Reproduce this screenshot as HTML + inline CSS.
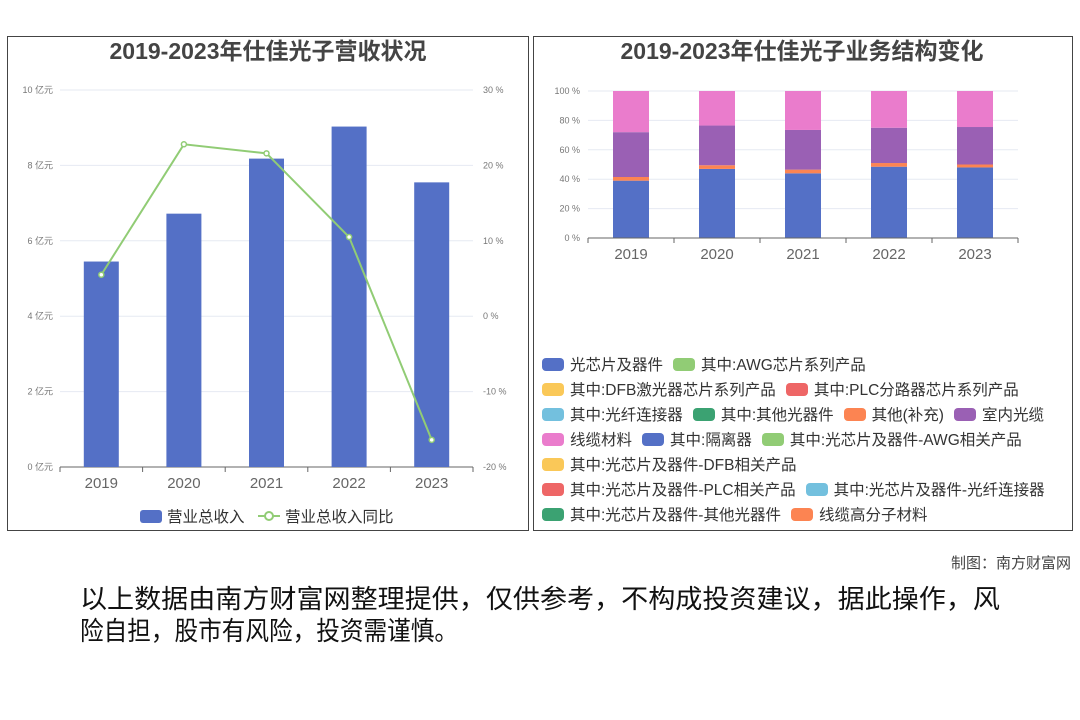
<!DOCTYPE html>
<html><head><meta charset="utf-8">
<style>
body{margin:0;width:1080px;height:720px;background:#fff;overflow:hidden;font-family:"Liberation Sans","Noto Sans CJK SC",sans-serif;position:relative}
.panel{position:absolute;border:1px solid #444;box-sizing:border-box;top:36px;height:495px}
.lg{position:absolute;font-size:15.5px;color:#333;white-space:nowrap;height:18px;line-height:18px}
.lg i{display:inline-block;width:22px;height:13px;border-radius:4px;vertical-align:-1px;margin-right:6px}
.lg span{margin-right:10px}
</style></head><body>
<div class="panel" style="left:7px;width:522px"></div>
<div class="panel" style="left:533px;width:540px"></div>
<svg id="s" width="1080" height="720" style="position:absolute;left:0;top:0">
<text x="268" y="59" text-anchor="middle" font-size="23" font-weight="bold" fill="#444">2019-2023年仕佳光子营收状况</text>
<text x="802" y="59" text-anchor="middle" font-size="23" font-weight="bold" fill="#444">2019-2023年仕佳光子业务结构变化</text>
<g id="L"></g><g id="R"></g>
<rect x="140" y="510" width="22" height="13" rx="3" fill="#5470c6"/>
<text x="167" y="522" font-size="15.5" fill="#333">营业总收入</text>
<line x1="258" y1="516" x2="280" y2="516" stroke="#91cc75" stroke-width="2"/>
<circle cx="269" cy="516" r="4" fill="#fff" stroke="#91cc75" stroke-width="2"/>
<text x="285" y="522" font-size="15.5" fill="#333">营业总收入同比</text>
<text x="1071" y="568" text-anchor="end" font-size="15" fill="#444">制图：南方财富网</text>
<text x="80" y="608" font-size="26" fill="#111" textLength="920" lengthAdjust="spacingAndGlyphs">以上数据由南方财富网整理提供，仅供参考，不构成投资建议，据此操作，风</text>
<text x="80" y="640" font-size="26" fill="#111" textLength="378" lengthAdjust="spacingAndGlyphs">险自担，股市有风险，投资需谨慎。</text>
</svg>
<div class="lg" style="left:542px;top:357px"><i style="background:#5470c6"></i><span>光芯片及器件</span><i style="background:#91cc75"></i><span>其中:AWG芯片系列产品</span></div>
<div class="lg" style="left:542px;top:382px"><i style="background:#fac858"></i><span>其中:DFB激光器芯片系列产品</span><i style="background:#ee6666"></i><span>其中:PLC分路器芯片系列产品</span></div>
<div class="lg" style="left:542px;top:407px"><i style="background:#73c0de"></i><span>其中:光纤连接器</span><i style="background:#3ba272"></i><span>其中:其他光器件</span><i style="background:#fc8452"></i><span>其他(补充)</span><i style="background:#9a60b4"></i><span>室内光缆</span></div>
<div class="lg" style="left:542px;top:432px"><i style="background:#ea7ccc"></i><span>线缆材料</span><i style="background:#5470c6"></i><span>其中:隔离器</span><i style="background:#91cc75"></i><span>其中:光芯片及器件-AWG相关产品</span></div>
<div class="lg" style="left:542px;top:457px"><i style="background:#fac858"></i><span>其中:光芯片及器件-DFB相关产品</span></div>
<div class="lg" style="left:542px;top:482px"><i style="background:#ee6666"></i><span>其中:光芯片及器件-PLC相关产品</span><i style="background:#73c0de"></i><span>其中:光芯片及器件-光纤连接器</span></div>
<div class="lg" style="left:542px;top:507px"><i style="background:#3ba272"></i><span>其中:光芯片及器件-其他光器件</span><i style="background:#fc8452"></i><span>线缆高分子材料</span></div>
<script>
const years=["2019","2020","2021","2022","2023"];
const revenue=[5.45,6.72,8.18,9.03,7.55];
const yoy=[5.5,22.8,21.6,10.5,-16.4];
const leftTicks=["0 亿元","2 亿元","4 亿元","6 亿元","8 亿元","10 亿元"];
const rightTicks=["-20 %","-10 %","0 %","10 %","20 %","30 %"];
const chipShare=[39,47,44,48.5,48];
const otherShare=[2.5,2.5,2.5,2.5,2];
const indoorShare=[30.5,27,27,24,25.5];
const cableShare=[28,23.5,26.5,25,24.5];
const pctTicks=["0 %","20 %","40 %","60 %","80 %","100 %"];
const NS="http://www.w3.org/2000/svg";
function mk(p,t,a){const e=document.createElementNS(NS,t);for(const k in a)e.setAttribute(k,a[k]);p.appendChild(e);return e;}
const L=document.getElementById('L');
const lx0=60,lx1=473,ly0=467,ly1=90;
const xL=i=>lx0+(i+0.5)*(lx1-lx0)/5;
const yL=v=>ly0-(v/10)*(ly0-ly1);
const yR=v=>ly0-((v+20)/50)*(ly0-ly1);
leftTicks.forEach((t,i)=>{const y=ly0-i*(ly0-ly1)/5;
 if(i>0){mk(L,'line',{x1:lx0,x2:lx1,y1:y,y2:y,stroke:'#e6eaf2'});}
 const a=mk(L,'text',{x:53,y:y+3,'text-anchor':'end','font-size':9,fill:'#777'});a.textContent=t;
 
 
 const b=mk(L,'text',{x:483,y:y+3,'font-size':9,fill:'#777'});b.textContent=rightTicks[i];
 
 });
mk(L,'line',{x1:lx0,x2:lx1,y1:ly0,y2:ly0,stroke:'#666'});
years.forEach((y,i)=>{const x=lx0+i*(lx1-lx0)/5;mk(L,'line',{x1:x,x2:x,y1:ly0,y2:ly0+5,stroke:'#666'});
 const r=mk(L,'rect',{x:xL(i)-17.5,y:yL(revenue[i]),width:35,height:ly0-yL(revenue[i]),fill:'#5470c6'});
 
 
 const t=mk(L,'text',{x:xL(i),y:488,'text-anchor':'middle','font-size':15,fill:'#666'});t.textContent=y;
 
 });
mk(L,'line',{x1:lx1,x2:lx1,y1:ly0,y2:ly0+5,stroke:'#666'});
mk(L,'polyline',{points:yoy.map((v,i)=>xL(i)+','+yR(v)).join(' '),fill:'none',stroke:'#91cc75','stroke-width':2});
yoy.forEach((v,i)=>{const c=mk(L,'circle',{cx:xL(i),cy:yR(v),r:2.5,fill:'#fff',stroke:'#91cc75','stroke-width':1.5});
 
 });
const R=document.getElementById('R');
const rx0=588,rx1=1018,ry0=238,ry1=91;
const xR=i=>rx0+(i+0.5)*(rx1-rx0)/5;
const yP=v=>ry0-(v/100)*(ry0-ry1);
pctTicks.forEach((t,i)=>{const y=ry0-i*(ry0-ry1)/5;
 if(i>0)mk(R,'line',{x1:rx0,x2:rx1,y1:y,y2:y,stroke:'#e6eaf2'});
 const a=mk(R,'text',{x:580,y:y+3,'text-anchor':'end','font-size':9,fill:'#777'});a.textContent=t;
 
 });
const series=[[chipShare,'#5470c6','chip'],[otherShare,'#fc8452','other'],[indoorShare,'#9a60b4','indoor-cable'],[cableShare,'#ea7ccc','cable-material']];
years.forEach((y,i)=>{let acc=0;
 series.forEach(([arr,c,n])=>{const v=arr[i];const r=mk(R,'rect',{x:xR(i)-18,y:yP(acc+v),width:36,height:yP(acc)-yP(acc+v),fill:c});
  
  
  acc+=v;});
 const t=mk(R,'text',{x:xR(i),y:259,'text-anchor':'middle','font-size':15,fill:'#666'});t.textContent=y;
 
 
 const x=rx0+i*(rx1-rx0)/5;mk(R,'line',{x1:x,x2:x,y1:ry0,y2:ry0+5,stroke:'#666'});});
mk(R,'line',{x1:rx1,x2:rx1,y1:ry0,y2:ry0+5,stroke:'#666'});
mk(R,'line',{x1:rx0,x2:rx1,y1:ry0,y2:ry0,stroke:'#666'});
</script>
</body></html>
